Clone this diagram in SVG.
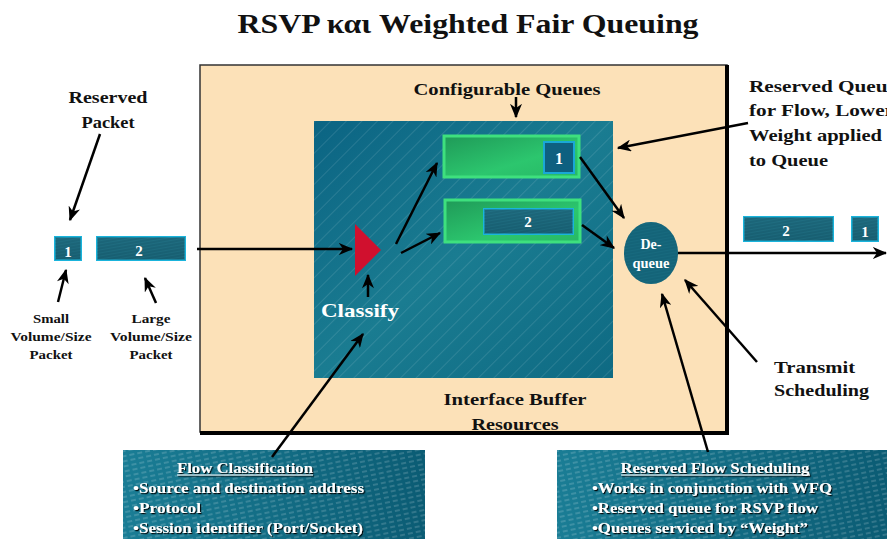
<svg xmlns="http://www.w3.org/2000/svg" width="887" height="539" viewBox="0 0 887 539">
  <defs>
    <style>
      .lbl { font-family: "Liberation Serif", "Times New Roman", serif; font-weight: bold; fill: #111; }
      .wht { font-family: "Liberation Serif", "Times New Roman", serif; font-weight: bold; fill: #fff; }
      .conn { stroke: #000; stroke-width: 2.5; fill: none; marker-end: url(#arrow); }
      .pkt { stroke: #1ab4dc; stroke-width: 2; fill: url(#pktFill); }
      .queue { stroke: #3ee07e; stroke-width: 3; fill: url(#greenFill); }
    </style>
    <marker id="arrow" viewBox="0 0 12 10" refX="11" refY="5" markerWidth="15" markerHeight="12" markerUnits="userSpaceOnUse" orient="auto">
      <path d="M0,0 L12,5 L0,10 L3.5,5 Z" fill="#000"/>
    </marker>
    <linearGradient id="tealGrad" x1="0" y1="0" x2="1" y2="1">
      <stop offset="0" stop-color="#0b6483"/>
      <stop offset="0.5" stop-color="#1a7c91"/>
      <stop offset="1" stop-color="#0e6a83"/>
    </linearGradient>
    <pattern id="diag" width="11" height="11" patternUnits="userSpaceOnUse" patternTransform="rotate(45)">
      <line x1="0" y1="0" x2="0" y2="11" stroke="#ffffff" stroke-opacity="0.28" stroke-width="0.8"/>
    </pattern>
    <linearGradient id="panelGrad" x1="0" y1="0" x2="1" y2="0">
      <stop offset="0" stop-color="#1a7d95"/>
      <stop offset="1" stop-color="#0b5c74"/>
    </linearGradient>
    <pattern id="dash" width="8" height="5" patternUnits="userSpaceOnUse" patternTransform="rotate(-12)">
      <line x1="0" y1="2" x2="5" y2="2" stroke="#ffffff" stroke-opacity="0.35" stroke-width="0.9"/>
    </pattern>
    <linearGradient id="greenFill" x1="0" y1="0" x2="1" y2="1">
      <stop offset="0" stop-color="#1f9a58"/>
      <stop offset="0.6" stop-color="#2cc66e"/>
      <stop offset="1" stop-color="#27b865"/>
    </linearGradient>
    <pattern id="pktTex" width="3" height="3" patternUnits="userSpaceOnUse" patternTransform="rotate(-10)">
      <rect width="3" height="3" fill="#1f6f82"/>
      <line x1="0" y1="1" x2="3" y2="1" stroke="#0b4a5c" stroke-width="0.8"/>
    </pattern>
    <linearGradient id="pktFill" x1="0" y1="0" x2="0" y2="1">
      <stop offset="0" stop-color="#236f84"/>
      <stop offset="1" stop-color="#15596c"/>
    </linearGradient>
    <filter id="shadow" x="-5%" y="-20%" width="110%" height="140%">
      <feDropShadow dx="1.2" dy="1.2" stdDeviation="0" flood-color="#000" flood-opacity="0.9"/>
    </filter>
  </defs>

  <rect width="887" height="539" fill="#ffffff"/>

  <!-- title -->
  <text class="lbl" x="468" y="33" font-size="28" text-anchor="middle" textLength="461" lengthAdjust="spacingAndGlyphs">RSVP και  Weighted Fair Queuing</text>

  <!-- interface buffer area -->
  <g id="buffer">
    <rect x="200" y="65" width="527" height="367" fill="#fce1b8" stroke="#333" stroke-width="1.5"/>
    <path d="M727,65 V433 H200" fill="none" stroke="#000" stroke-width="4"/>
    <text class="lbl" x="515" y="405" font-size="17" text-anchor="middle" textLength="143" lengthAdjust="spacingAndGlyphs">Interface Buffer</text>
    <text class="lbl" x="515" y="430" font-size="17" text-anchor="middle" textLength="87" lengthAdjust="spacingAndGlyphs">Resources</text>
  </g>

  <g id="queues-area">
    <rect x="314" y="121" width="299" height="257" fill="url(#tealGrad)"/>
    <rect x="314" y="121" width="299" height="257" fill="url(#diag)"/>
    <text class="lbl" x="507" y="95" font-size="16" text-anchor="middle" textLength="187" lengthAdjust="spacingAndGlyphs">Configurable Queues</text>
  </g>

  <g id="queue1">
    <rect class="queue" x="444" y="136" width="135" height="41"/>
    <rect x="544" y="142" width="30" height="31" fill="#0e6080" stroke="#19a8d6" stroke-width="2"/>
    <text class="wht" x="559" y="164" font-size="16" text-anchor="middle">1</text>
  </g>

  <g id="queue2">
    <rect class="queue" x="445" y="200" width="135" height="42"/>
    <rect class="pkt" x="484" y="209" width="89" height="25"/>
    <rect x="484" y="209" width="89" height="25" fill="url(#pktTex)" opacity="0.55"/>
    <text class="wht" x="528" y="227" font-size="15" text-anchor="middle">2</text>
  </g>

  <g id="classifier">
    <polygon points="355,224 381,250 355,276" fill="#d0102e"/>
    <text class="wht" x="360" y="317" font-size="19" text-anchor="middle" textLength="78" lengthAdjust="spacingAndGlyphs">Classify</text>
  </g>

  <g id="dequeue">
    <ellipse cx="651" cy="253" rx="27" ry="31" fill="#12667c"/>
    <ellipse cx="651" cy="253" rx="27" ry="31" fill="url(#pktTex)" opacity="0.4"/>
    <text class="wht" x="651" y="249" font-size="14" text-anchor="middle">De-</text>
    <text class="wht" x="651" y="268" font-size="14" text-anchor="middle" textLength="37" lengthAdjust="spacingAndGlyphs">queue</text>
  </g>

  <g id="in-packets">
    <rect class="pkt" x="55" y="237" width="26" height="23"/>
    <rect x="55" y="237" width="26" height="23" fill="url(#pktTex)" opacity="0.5"/>
    <text class="wht" x="68" y="257" font-size="15" text-anchor="middle">1</text>
    <rect class="pkt" x="97" y="237" width="88" height="23"/>
    <rect x="97" y="237" width="88" height="23" fill="url(#pktTex)" opacity="0.6"/>
    <text class="wht" x="139" y="256" font-size="15" text-anchor="middle">2</text>
  </g>

  <g id="out-packets">
    <rect class="pkt" x="744" y="217" width="89" height="24"/>
    <rect x="744" y="217" width="89" height="24" fill="url(#pktTex)" opacity="0.6"/>
    <text class="wht" x="786" y="236" font-size="15" text-anchor="middle">2</text>
    <rect class="pkt" x="852" y="217" width="26" height="24"/>
    <rect x="852" y="217" width="26" height="24" fill="url(#pktTex)" opacity="0.5"/>
    <text class="wht" x="865" y="237" font-size="15" text-anchor="middle">1</text>
  </g>

  <g id="label-reserved-packet">
    <text class="lbl" x="108" y="103" font-size="16" text-anchor="middle" textLength="79" lengthAdjust="spacingAndGlyphs">Reserved</text>
    <text class="lbl" x="108" y="128" font-size="16" text-anchor="middle" textLength="53" lengthAdjust="spacingAndGlyphs">Packet</text>
  </g>

  <g id="label-small">
    <text class="lbl" x="51" y="323" font-size="12.5" text-anchor="middle" textLength="36" lengthAdjust="spacingAndGlyphs">Small</text>
    <text class="lbl" x="51" y="341" font-size="12.5" text-anchor="middle" textLength="81" lengthAdjust="spacingAndGlyphs">Volume/Size</text>
    <text class="lbl" x="51" y="359" font-size="12.5" text-anchor="middle" textLength="43" lengthAdjust="spacingAndGlyphs">Packet</text>
  </g>

  <g id="label-large">
    <text class="lbl" x="151" y="323" font-size="12.5" text-anchor="middle" textLength="39" lengthAdjust="spacingAndGlyphs">Large</text>
    <text class="lbl" x="151" y="341" font-size="12.5" text-anchor="middle" textLength="82" lengthAdjust="spacingAndGlyphs">Volume/Size</text>
    <text class="lbl" x="151" y="359" font-size="12.5" text-anchor="middle" textLength="43" lengthAdjust="spacingAndGlyphs">Packet</text>
  </g>

  <g id="label-reserved-queue">
    <text class="lbl" x="749" y="92" font-size="16" textLength="148" lengthAdjust="spacingAndGlyphs">Reserved Queue</text>
    <text class="lbl" x="749" y="116" font-size="16" textLength="145" lengthAdjust="spacingAndGlyphs">for Flow, Lower</text>
    <text class="lbl" x="749" y="141" font-size="16" textLength="133" lengthAdjust="spacingAndGlyphs">Weight applied</text>
    <text class="lbl" x="749" y="166" font-size="16" textLength="79" lengthAdjust="spacingAndGlyphs">to Queue</text>
  </g>

  <g id="label-transmit">
    <text class="lbl" x="774" y="373" font-size="16" textLength="81" lengthAdjust="spacingAndGlyphs">Transmit</text>
    <text class="lbl" x="774" y="396" font-size="16" textLength="95" lengthAdjust="spacingAndGlyphs">Scheduling</text>
  </g>

  <g id="flow-classification">
    <rect x="123" y="450" width="302" height="89" fill="url(#panelGrad)"/>
    <rect x="123" y="450" width="302" height="89" fill="url(#dash)"/>
    <g filter="url(#shadow)">
      <text class="wht" x="245" y="473" font-size="14" text-anchor="middle" textLength="136" lengthAdjust="spacingAndGlyphs">Flow Classification</text>
      <line x1="177" y1="475" x2="313" y2="475" stroke="#fff" stroke-width="1.2"/>
      <text class="wht" x="133" y="493" font-size="14" textLength="231" lengthAdjust="spacingAndGlyphs">•Source and destination address</text>
      <text class="wht" x="133" y="513" font-size="14" textLength="68" lengthAdjust="spacingAndGlyphs">•Protocol</text>
      <text class="wht" x="133" y="533" font-size="14" textLength="230" lengthAdjust="spacingAndGlyphs">•Session identifier (Port/Socket)</text>
    </g>
  </g>

  <g id="reserved-flow-scheduling">
    <rect x="557" y="450" width="330" height="89" fill="url(#panelGrad)"/>
    <rect x="557" y="450" width="330" height="89" fill="url(#dash)"/>
    <g filter="url(#shadow)">
      <text class="wht" x="715" y="473" font-size="14" text-anchor="middle" textLength="189" lengthAdjust="spacingAndGlyphs">Reserved Flow Scheduling</text>
      <line x1="621" y1="475" x2="810" y2="475" stroke="#fff" stroke-width="1.2"/>
      <text class="wht" x="592" y="493" font-size="14" textLength="240" lengthAdjust="spacingAndGlyphs">•Works in conjunction with WFQ</text>
      <text class="wht" x="592" y="513" font-size="14" textLength="226" lengthAdjust="spacingAndGlyphs">•Reserved queue for RSVP flow</text>
      <text class="wht" x="592" y="533" font-size="14" textLength="216" lengthAdjust="spacingAndGlyphs">•Queues serviced by “Weight”</text>
    </g>
  </g>

  <g id="connectors">
    <line class="conn" x1="197" y1="249" x2="352" y2="249"/>
    <line class="conn" x1="396" y1="244" x2="437" y2="163"/>
    <line class="conn" x1="401" y1="253" x2="440" y2="233"/>
    <line class="conn" x1="580" y1="157" x2="624" y2="218"/>
    <line class="conn" x1="582" y1="225" x2="614" y2="248"/>
    <line class="conn" x1="678" y1="253" x2="886" y2="253"/>
    <line class="conn" x1="368" y1="297" x2="368" y2="275"/>
    <line class="conn" x1="516" y1="97" x2="516" y2="117"/>
    <line class="conn" x1="748" y1="123" x2="618" y2="148"/>
    <line class="conn" x1="100" y1="134" x2="70" y2="220"/>
    <line class="conn" x1="58" y1="302" x2="66" y2="270"/>
    <line class="conn" x1="156" y1="303" x2="145" y2="278"/>
    <line class="conn" x1="757" y1="362" x2="685" y2="280"/>
    <line class="conn" x1="708" y1="452" x2="662" y2="294"/>
    <line class="conn" x1="272" y1="457" x2="363" y2="334"/>
  </g>
</svg>
